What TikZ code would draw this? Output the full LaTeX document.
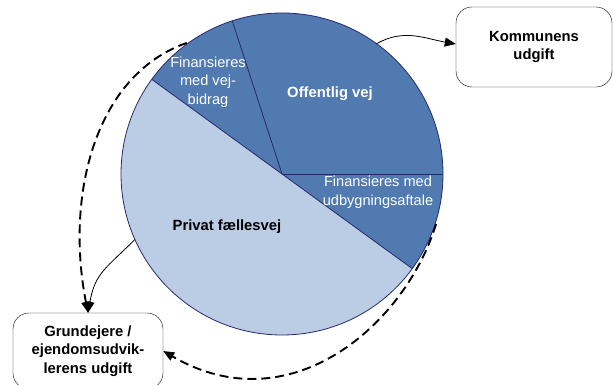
\documentclass[tikz,border=0pt]{standalone}
\usepackage{fontspec}
\setmainfont{Liberation Sans}
\usepackage{tikz}
\usetikzlibrary{arrows.meta,shapes,calc,positioning}
\definecolor{vejmoerk}{RGB}{80,122,176}
\definecolor{vejlys}{RGB}{187,205,228}
\definecolor{vejkant}{RGB}{40,40,112}

\begin{document}
\begin{tikzpicture}[x=1pt,y=1pt,
  udgift/.style={draw, thin, rounded corners=16pt, align=center, font=\fontsize{14.8}{18.5}\selectfont\bfseries},
  hvid/.style={align=center, text=white, font=\fontsize{14.6}{18.5}\selectfont},
  tynd/.style={-{Triangle[length=11pt,width=9pt]}, line width=0.8pt},
  stiplet/.style={-{Triangle[length=11pt,width=9pt]}, line width=1.9pt, dash pattern=on 9pt off 5pt}]
\useasboundingbox (0,0) rectangle (614,385);
\coordinate (C) at (282,211);
% lagkagen
\fill[vejlys] (C) -- ++(144:161) arc[start angle=144, end angle=324, radius=161] -- cycle;
\fill[vejmoerk] (C) -- ++(-36:161) arc[start angle=-36, end angle=144, radius=161] -- cycle;
\draw[vejkant, line width=0.8pt] (C) circle[radius=161];
\draw[vejkant, line width=0.8pt] (C) -- ++(144:161);
\draw[vejkant, line width=0.8pt] (C) -- ++(-36:161);
\draw[vejkant, line width=0.8pt] (C) -- ++(0:161);
\draw[vejkant, line width=0.8pt] (C) -- ++(108:161);
\node[hvid] (bidrag) at (208,303) {Finansieres\\med vej-\\bidrag};
\node[hvid, font=\fontsize{14.8}{18.5}\selectfont\bfseries] (offentlig) at (330,291) {Offentlig vej};
\node[hvid] (aftale) at (378,193) {Finansieres med\\udbygningsaftale};
\node[font=\fontsize{14.8}{18.5}\selectfont\bfseries] (privat) at (227,158) {Privat fællesvej};
% kasser
\node[udgift, minimum width=156pt, minimum height=80pt] (kommune) at (534,338) {Kommunens\\udgift};
\node[udgift, minimum width=150pt, minimum height=76pt] (grund) at (88,34) {Grundejere /\\ejendomsudvik-\\lerens udgift};
% pile
\coordinate (pk) at ($(C)+(54:161)$);
\coordinate (pg) at ($(C)+(204:161)$);
\coordinate (pv) at ($(C)+(126:162)$);
\coordinate (ph) at ($(C)+(-18:162)$);
\draw[tynd] (pk) to[out=30, in=170] ([yshift=3pt]kommune.west);
\draw[tynd] (pg) to[out=225, in=80, looseness=1.2] (grund.north);
\draw[stiplet] (pv) .. controls (95,310) and (65,190) .. (grund.north);
\draw[stiplet] (ph) .. controls (405,60) and (290,-40) .. (grund.east);
\end{tikzpicture}
\end{document}
